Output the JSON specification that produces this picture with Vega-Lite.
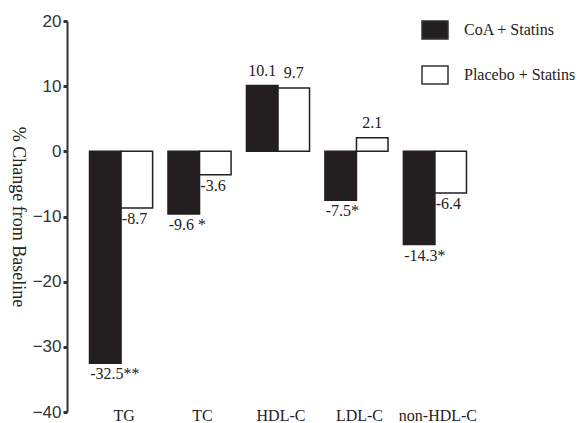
{
  "$schema": "https://vega.github.io/schema/vega-lite/v6.json",
  "width": 422,
  "height": 391,
  "autosize": {"type": "none"},
  "padding": {"left": 67, "top": 21, "right": 90, "bottom": 11},
  "background": "white",
  "config": {"view": {"stroke": null}},
  "data": {
    "values": [
      {"lipid": "TG", "group": "CoA + Statins", "value": -32.5, "label": "-32.5**"},
      {"lipid": "TG", "group": "Placebo + Statins", "value": -8.7, "label": "-8.7"},
      {"lipid": "TC", "group": "CoA + Statins", "value": -9.6, "label": "-9.6 *"},
      {"lipid": "TC", "group": "Placebo + Statins", "value": -3.6, "label": "-3.6"},
      {"lipid": "HDL-C", "group": "CoA + Statins", "value": 10.1, "label": "10.1"},
      {"lipid": "HDL-C", "group": "Placebo + Statins", "value": 9.7, "label": "9.7"},
      {"lipid": "LDL-C", "group": "CoA + Statins", "value": -7.5, "label": "-7.5*"},
      {"lipid": "LDL-C", "group": "Placebo + Statins", "value": 2.1, "label": "2.1"},
      {"lipid": "non-HDL-C", "group": "CoA + Statins", "value": -14.3, "label": "-14.3*"},
      {"lipid": "non-HDL-C", "group": "Placebo + Statins", "value": -6.4, "label": "-6.4"}
    ]
  },
  "encoding": {
    "x": {
      "field": "lipid", "type": "nominal", "sort": null,
      "scale": {"paddingInner": 0.196, "paddingOuter": 0.287},
      "axis": {
        "title": null, "domain": false, "ticks": false, "tickSize": 0,
        "labelAngle": 0, "labelPadding": 3, "labelBaseline": "middle", "labelOffset": 3,
        "labelFont": "Liberation Serif", "labelFontSize": 16, "labelColor": "#222222"
      }
    },
    "xOffset": {"field": "group", "type": "nominal", "sort": null, "scale": {"paddingInner": 0, "paddingOuter": 0}},
    "y": {
      "field": "value", "type": "quantitative",
      "scale": {"domain": [-40, 20], "nice": false},
      "axis": {
        "title": "% Change from Baseline", "titleFont": "Liberation Serif", "titleFontSize": 18,
        "titleFontWeight": "normal", "titleColor": "#222222", "titleAngle": 90, "titlePadding": 24,
        "values": [-40, -30, -20, -10, 0, 10, 20], "grid": false,
        "domainColor": "#333333", "domainWidth": 2,
        "tickColor": "#333333", "tickWidth": 3, "tickSize": 4,
        "labelPadding": 2, "labelFont": "Liberation Sans", "labelFontSize": 17, "labelColor": "#333333"
      }
    }
  },
  "layer": [
    {
      "mark": {"type": "bar", "stroke": "#231f20", "strokeWidth": 1.5},
      "encoding": {
        "color": {
          "field": "group", "type": "nominal", "sort": null,
          "scale": {"range": ["#231f20", "#ffffff"]},
          "legend": {
            "title": null, "orient": "none", "legendX": 354, "legendY": -5,
            "symbolType": "M-1,-0.7L1,-0.7L1,0.7L-1,0.7Z", "symbolSize": 676,
            "symbolStrokeColor": "#333333", "symbolStrokeWidth": 1.5,
            "labelFont": "Liberation Serif", "labelFontSize": 16, "labelColor": "#222222",
            "labelOffset": 15, "rowPadding": 18, "padding": 0
          }
        }
      }
    },
    {
      "transform": [{"filter": "datum.value < 0"}],
      "mark": {"type": "text", "align": "left", "baseline": "top", "dx": -15, "dy": 3,
               "font": "Liberation Serif", "fontSize": 16, "color": "#222222"},
      "encoding": {"text": {"field": "label"}}
    },
    {
      "transform": [{"filter": "datum.value >= 0"}],
      "mark": {"type": "text", "align": "center", "baseline": "bottom", "dy": -7,
               "font": "Liberation Serif", "fontSize": 16, "color": "#222222"},
      "encoding": {"text": {"field": "label"}}
    }
  ]
}
